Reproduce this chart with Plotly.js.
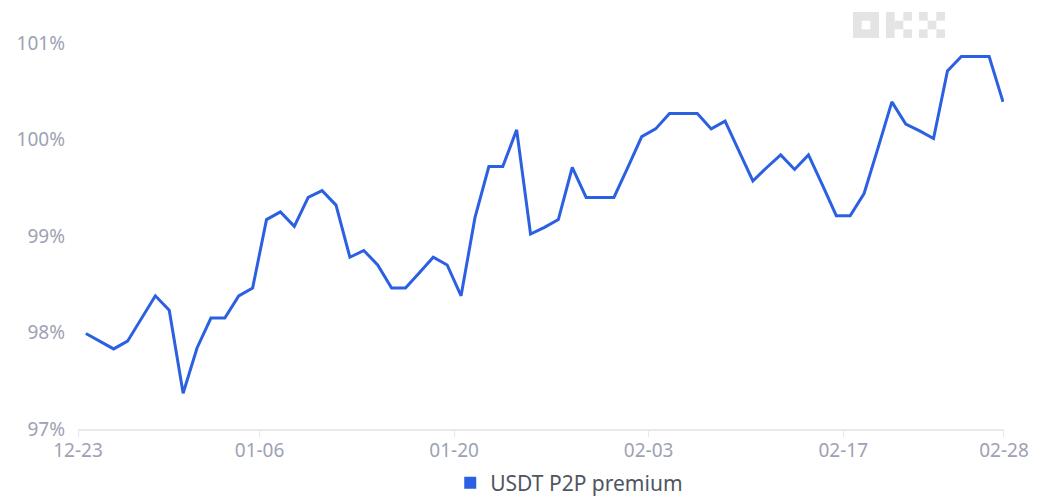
<!DOCTYPE html>
<html>
<head>
<meta charset="utf-8">
<script src="https://cdn.plot.ly/plotly-3.0.1.min.js"></script>
<style>
  html, body { margin: 0; padding: 0; background: #ffffff; }
  #chart { width: 1047px; height: 501px; }
</style>
</head>
<body>
<div id="chart"></div>
<script>
// ---- data ----
const days = [
  '12-24','12-25','12-26','12-27','12-28','12-29','12-30','12-31',
  '01-01','01-02','01-03','01-04','01-05','01-06','01-07','01-08','01-09','01-10',
  '01-11','01-12','01-13','01-14','01-15','01-16','01-17','01-18','01-19','01-20',
  '01-21','01-22','01-23','01-24','01-25','01-26','01-27','01-28','01-29','01-30','01-31',
  '02-01','02-02','02-03','02-04','02-05','02-06','02-07','02-08','02-09','02-10',
  '02-11','02-12','02-13','02-14','02-15','02-16','02-17','02-18','02-19','02-20',
  '02-21','02-22','02-23','02-24','02-25','02-26','02-27','02-28'
];
const premium = [
  97.99, 97.91, 97.83, 97.91, 98.15, 98.38, 98.23, 97.37,
  97.84, 98.15, 98.15, 98.38, 98.46, 99.17, 99.25, 99.10, 99.40, 99.47,
  99.32, 98.78, 98.85, 98.70, 98.46, 98.46, 98.62, 98.78, 98.70, 98.38,
  99.19, 99.72, 99.72, 100.10, 99.02, 99.09, 99.17, 99.71, 99.40, 99.40, 99.40,
  99.71, 100.03, 100.11, 100.27, 100.27, 100.27, 100.11, 100.19, 99.88, 99.57,
  99.71, 99.84, 99.69, 99.84, 99.53, 99.21, 99.21, 99.44, 99.91, 100.39,
  100.16, 100.09, 100.01, 100.71, 100.86, 100.86, 100.86, 100.39
];
const seriesName = 'USDT P2P premium';
const xTickVals = ['2022-12-23 22:30', '2023-01-06', '2023-01-20', '2023-02-03', '2023-02-17', '2023-02-28 13:35'];
const xTickText = ['12-23', '01-06', '01-20', '02-03', '02-17', '02-28'];
const yTickVals = [97, 98, 99, 100, 101];
const yTickText = ['97%', '98%', '99%', '100%', '101%'];

// sampled daily around midday
const xDates = days.map(d => (d.startsWith('12') ? '2022-' : '2023-') + d + ' 12:00');

// ---- layout helpers ----
const W = 1047, H = 501;
const M = { l: 78, r: 43, t: 43, b: 72, autoexpand: false };
const pw = W - M.l - M.r, ph = H - M.t - M.b;
function box(x0, y0, x1, y1, color) {
  return {
    type: 'rect', xref: 'paper', yref: 'paper', layer: 'above',
    x0: (x0 - M.l) / pw, x1: (x1 - M.l) / pw,
    y0: (H - M.b - y0) / ph, y1: (H - M.b - y1) / ph,
    line: { width: 0 }, fillcolor: color
  };
}
// OKX watermark logo (top right)
const lg = '#e4e4e4';
const u = 26 / 3;
const logo = [];
// O
logo.push(box(853, 12, 879, 38, lg));
logo.push(box(853 + u, 12 + u, 853 + 2 * u, 12 + 2 * u, '#ffffff'));
// K
logo.push(box(886, 12, 886 + u, 38, lg));
logo.push(box(886 + u, 12 + u, 886 + 2 * u, 12 + 2 * u, lg));
logo.push(box(886 + 2 * u, 12, 912, 12 + u, lg));
logo.push(box(886 + 2 * u, 12 + 2 * u, 912, 38, lg));
// X
logo.push(box(919, 12, 919 + u, 12 + u, lg));
logo.push(box(919 + 2 * u, 12, 945, 12 + u, lg));
logo.push(box(919 + u, 12 + u, 919 + 2 * u, 12 + 2 * u, lg));
logo.push(box(919, 12 + 2 * u, 919 + u, 38, lg));
logo.push(box(919 + 2 * u, 12 + 2 * u, 945, 38, lg));

const lineColor = '#2c60e2';
const tickColor = '#9da2b3';

const traces = [
  {
    x: xDates, y: premium, type: 'scatter', mode: 'lines',
    line: { color: lineColor, width: 3 },
    name: seriesName, showlegend: false, hoverinfo: 'x+y'
  },
  {
    x: [null], y: [null], type: 'scatter', mode: 'markers',
    marker: { symbol: 'square', size: 12, color: lineColor },
    name: seriesName, showlegend: true
  }
];

const layout = {
  width: W, height: H,
  margin: M,
  paper_bgcolor: '#ffffff', plot_bgcolor: '#ffffff',
  font: { family: 'Noto Sans, Open Sans, sans-serif', color: tickColor, size: 19 },
  showlegend: true,
  legend: {
    orientation: 'h', x: 0.5305, xanchor: 'center', y: -0.14, yanchor: 'middle',
    bgcolor: 'rgba(0,0,0,0)',
    font: { size: 21, color: '#505562' }
  },
  xaxis: {
    type: 'date',
    range: ['2022-12-23 22:26', '2023-02-28 13:40'],
    tickmode: 'array', tickvals: xTickVals, ticktext: xTickText,
    showgrid: false, zeroline: false,
    showline: true, linecolor: '#e9e9ec', linewidth: 1.5,
    ticks: 'outside', ticklen: 6, tickcolor: '#e9e9ec', tickwidth: 1,
    ticklabelstandoff: -2,
    tickfont: { size: 19, color: tickColor }
  },
  yaxis: {
    range: [97, 101],
    tickmode: 'array', tickvals: yTickVals, ticktext: yTickText,
    showgrid: false, zeroline: false, showline: false,
    ticks: '', ticklabelstandoff: 12,
    tickfont: { size: 19, color: tickColor }
  },
  shapes: logo
};

Plotly.newPlot('chart', traces, layout, { displayModeBar: false, staticPlot: true });
</script>
</body>
</html>
